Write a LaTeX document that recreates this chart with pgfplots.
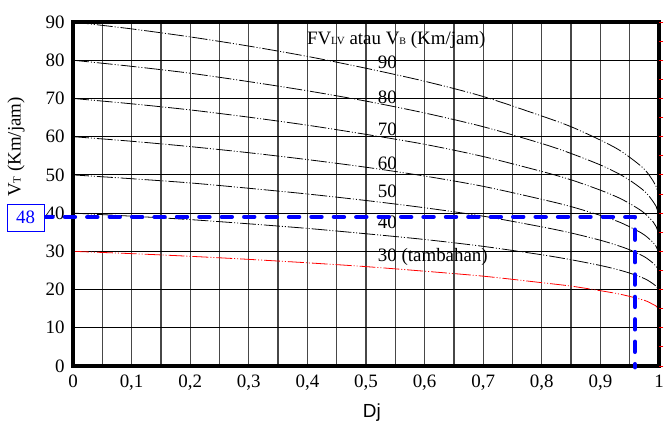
\documentclass[border=0pt]{standalone}
\usepackage{pgfplots}
\pgfplotsset{compat=1.18}
\usepackage{pgfplotstable}
\usepackage{fontspec}
\setmainfont{Liberation Serif}
\newfontfamily\tnr{Liberation Serif}
\newfontfamily\arial{Liberation Sans}

\pgfplotstableread{
D     v90  v80  v70  v60  v50  v40  v30
0     90.0 80.0 70.0 60.0 50.0 40.0 30.0
0.1   88.2 78.4 68.6 58.8 49.0 39.2 29.4
0.2   86.1 76.6 67.0 57.4 47.9 38.3 28.7
0.3   83.7 74.4 65.1 55.8 46.5 37.2 27.9
0.4   81.0 72.0 63.0 54.0 45.0 36.0 27.0
0.5   77.9 69.3 60.6 52.0 43.3 34.6 26.0
0.6   74.5 66.2 58.0 49.7 41.4 33.1 24.8
0.7   70.5 62.6 54.8 47.0 39.2 31.3 23.5
0.8   65.4 58.2 50.9 43.6 36.4 29.1 21.8
0.85  62.6 55.6 48.7 41.7 34.8 27.8 20.9
0.9   59.1 52.6 46.0 39.4 32.9 26.3 19.7
0.93  56.7 50.4 44.1 37.8 31.5 25.2 18.9
0.95  54.6 48.6 42.5 36.4 30.4 24.3 18.2
0.97  52.2 46.4 40.6 34.8 29.0 23.2 17.4
0.98  50.6 45.0 39.3 33.7 28.1 22.5 16.9
0.99  48.4 43.0 37.7 32.3 26.9 21.5 16.1
0.995 47.0 41.8 36.5 31.3 26.1 20.9 15.7
1.0   44.1 39.2 34.3 29.4 24.5 19.6 14.7
}\curves

\tikzset{curve/.style={line width=0.8pt, dash pattern=on 16pt off 2pt on 1pt off 2pt on 1pt off 2pt}}

\begin{document}
\begin{tikzpicture}
\useasboundingbox (-73bp,-57bp) rectangle (591bp,366bp);
\begin{axis}[
  at={(0,0)}, anchor=south west,
  scale only axis, width=586bp, height=344bp,
  xmin=0, xmax=1, ymin=0, ymax=90,
  clip=false,
  xtick={0,0.1,...,1.01},
  xticklabels={0,{0,1},{0,2},{0,3},{0,4},{0,5},{0,6},{0,7},{0,8},{0,9},1},
  minor xtick={0.05,0.15,...,1},
  ytick={0,10,...,90},
  yticklabels={0,10,20,30,40,50,60,70,80,90},
  grid=both,
  x grid style={black!72, line width=1.3pt},
  y grid style={black, line width=0.9pt},
  major tick length=0pt, minor tick length=0pt,
  axis line style={draw=none},
  xticklabel style={font=\tnr\fontsize{19}{19}\selectfont, yshift=-5bp},
  yticklabel style={font=\tnr\fontsize{19}{19}\selectfont, xshift=-5bp},
]
\addplot[curve, black, smooth] table[x=D,y=v90]{\curves};
\addplot[curve, black, smooth] table[x=D,y=v80]{\curves};
\addplot[curve, black, smooth] table[x=D,y=v70]{\curves};
\addplot[curve, black, smooth] table[x=D,y=v60]{\curves};
\addplot[curve, black, smooth] table[x=D,y=v50]{\curves};
\addplot[curve, black, smooth] table[x=D,y=v40]{\curves};
\addplot[curve, red, smooth] table[x=D,y=v30]{\curves};

\begin{scope}[every node/.style={font=\tnr\fontsize{19}{19}\selectfont, inner sep=0pt}]
\node[anchor=west] at (axis cs:0.399,85.3) {FV{\fontsize{11}{11}\selectfont LV} atau V{\fontsize{10}{10}\selectfont B} (Km/jam)};
\node[anchor=west] at (axis cs:0.52,79.5) {90};
\node[anchor=west] at (axis cs:0.52,70.4) {80};
\node[anchor=west] at (axis cs:0.52,61.8) {70};
\node[anchor=west] at (axis cs:0.52,53.0) {60};
\node[anchor=west] at (axis cs:0.52,45.6) {50};
\node[anchor=west] at (axis cs:0.52,37.5) {40};
\node[anchor=west] at (axis cs:0.52,28.6) {30 (tambahan)};
\node[rotate=90] at (axis cs:-0.097,57.3) {V{\fontsize{11}{11}\selectfont T} (Km/jam)};
\node at (axis cs:0.51,-12.3) {\arial Dj};
\end{scope}
\end{axis}
\draw[line width=4.5bp, black] (0bp,0bp) rectangle (586bp,344bp);
\begin{axis}[
  at={(0,0)}, anchor=south west,
  scale only axis, width=586bp, height=344bp,
  xmin=0, xmax=1, ymin=0, ymax=90,
  clip=false,
  axis x line=none, axis y line*=right,
  axis line style={draw=none},
  ytick={0,5,...,90}, yticklabels={},
  tick align=outside, major tick length=4.5pt,
  tick style={red, line width=0.8pt},
]
\addplot[blue, line width=4.5pt, dash pattern=on 10pt off 12.5pt, line cap=round, line join=round]
  coordinates {(-0.052,39) (0.959,39) (0.959,-0.3)};
\node[draw=blue, line width=0.6pt, fill=white, text=blue, minimum width=37bp, minimum height=27bp, inner sep=0pt, font=\tnr\fontsize{19}{19}\selectfont] at (axis cs:-0.081,38.9) {48};
\end{axis}
\end{tikzpicture}
\end{document}
